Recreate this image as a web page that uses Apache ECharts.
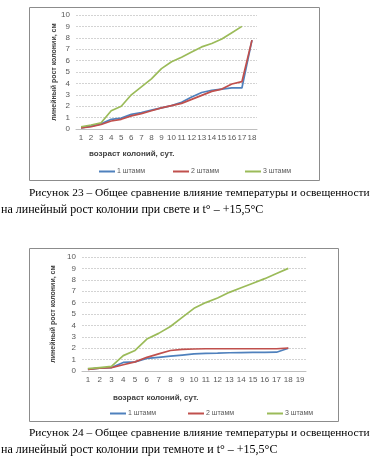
<!DOCTYPE html>
<html><head><meta charset="utf-8">
<script src="https://cdn.jsdelivr.net/npm/echarts@6/dist/echarts.min.js"></script>
<style>html,body{margin:0;padding:0;background:#fff}#c{width:381px;height:466px}</style>
</head><body><div id="c"></div>
<script>
const days1 = ['1','2','3','4','5','6','7','8','9','10','11','12','13','14','15','16','17','18'];
const days2 = ['1','2','3','4','5','6','7','8','9','10','11','12','13','14','15','16','17','18','19'];
const seriesNames = ['1 штамм','2 штамм','3 штамм'];
// Рисунок 23 (свет)
const light1 = [0.1,0.25,0.45,0.85,0.95,1.28,1.45,1.65,1.85,2.05,2.35,2.8,3.2,3.4,3.5,3.6,3.6,7.8];
const light2 = [0.1,0.2,0.4,0.7,0.85,1.15,1.35,1.6,1.85,2.05,2.25,2.6,2.95,3.3,3.5,3.95,4.15,7.8];
const light3 = [0.2,0.35,0.55,1.6,2.0,3.0,3.7,4.4,5.3,5.9,6.3,6.75,7.2,7.5,7.9,8.45,9.0,null];
// Рисунок 24 (темнота)
const dark1 = [0.15,0.25,0.3,0.75,0.8,1.1,1.2,1.3,1.4,1.5,1.55,1.57,1.6,1.62,1.63,1.63,1.65,2.0,null];
const dark2 = [0.15,0.25,0.3,0.55,0.8,1.2,1.5,1.8,1.9,1.93,1.95,1.95,1.95,1.95,1.95,1.95,1.95,2.0,null];
const dark3 = [0.2,0.3,0.4,1.35,1.8,2.8,3.3,3.9,4.7,5.5,6.0,6.4,6.9,7.3,7.7,8.1,8.55,9.0,null];
const yMin = 0, yMax = 10, yStep = 1;
const yTitle = 'линейный рост колонии, см';
const xTitle = 'возраст колоний, сут.';
const caption23a = 'Рисунок 23 – Общее сравнение влияние температуры и освещенности';
const caption23b = 'на линейный рост колонии при свете и t° – +15,5°C';
const caption24a = 'Рисунок 24 – Общее сравнение влияние температуры и освещенности';
const caption24b = 'на линейный рост колонии при темноте и t° – +15,5°C';

const colors = ['#4F81BD','#C0504D','#9BBB59'];
const lblFont = 'Liberation Sans, Arial, sans-serif';
const serif = 'Liberation Serif, Times New Roman, serif';

function xAx(idx, data) {
  return {type:'category', gridIndex: idx, data: data, boundaryGap: true,
    axisTick:{show:false}, axisLine:{lineStyle:{color:'#bfbfbf'}},
    axisLabel:{fontSize:8, color:'#595959', fontFamily: lblFont, margin:5, interval:0}};
}
function yAx(idx, gap) {
  return {type:'value', gridIndex: idx, min:yMin, max:yMax, interval:yStep,
    name: yTitle, nameLocation:'middle', nameRotate:90, nameGap: gap,
    nameTextStyle:{fontSize:7, fontWeight:'bold', color:'#404040', fontFamily: lblFont},
    axisLine:{show:false}, axisTick:{show:false},
    splitLine:{lineStyle:{color:'#d3d3d3', type:[2,1], width:1}},
    axisLabel:{fontSize:8, color:'#595959', fontFamily: lblFont, margin:6}};
}
function ser(name, idx, data, c) {
  return {type:'line', name:name, xAxisIndex: idx, yAxisIndex: idx, data: data,
    symbol:'none', connectNulls:false, lineStyle:{width:1.7, color:c}, itemStyle:{color:c}};
}
function leg(name, left, top) {
  return {data:[name], left:left, top:top, padding:0, icon:'rect', itemWidth:16, itemHeight:2,
    itemGap:3, selectedMode:false,
    textStyle:{fontSize:7, color:'#595959', fontFamily: lblFont, padding:[0,0,0,-3]}};
}
const chart = echarts.init(document.getElementById('c'), null, {renderer:'canvas'});
chart.setOption({
  animation:false,
  color: colors,
  grid:[
    {left:76, top:15, width:181, height:114},
    {left:82, top:257, width:224, height:114}
  ],
  xAxis:[xAx(0, days1), xAx(1, days2)],
  yAxis:[yAx(0, 18), yAx(1, 19)],
  legend:[
    leg(seriesNames[0], 99, 168), leg(seriesNames[1], 173, 168), leg(seriesNames[2], 245, 168),
    leg(seriesNames[0], 110, 410), leg(seriesNames[1], 188, 410), leg(seriesNames[2], 267, 410)
  ],
  series:[
    ser(seriesNames[0], 0, light1, colors[0]),
    ser(seriesNames[1], 0, light2, colors[1]),
    ser(seriesNames[2], 0, light3, colors[2]),
    ser(seriesNames[0], 1, dark1, colors[0]),
    ser(seriesNames[1], 1, dark2, colors[1]),
    ser(seriesNames[2], 1, dark3, colors[2])
  ],
  graphic:[
    {type:'rect', shape:{x:29.5, y:7.5, width:290, height:173}, style:{fill:'none', stroke:'#8c8c8c', lineWidth:1}, silent:true, z:-1},
    {type:'rect', shape:{x:29.5, y:248.5, width:309, height:173}, style:{fill:'none', stroke:'#8c8c8c', lineWidth:1}, silent:true, z:-1},
    {type:'text', left:89, top:150, style:{text:xTitle, fontSize:8, fontWeight:'bold', fill:'#404040', fontFamily: lblFont}},
    {type:'text', left:113, top:394, style:{text:xTitle, fontSize:8, fontWeight:'bold', fill:'#404040', fontFamily: lblFont}},
    {type:'text', left:29, top:188, style:{text:caption23a, fontSize:11.4, fill:'#000', fontFamily: serif}},
    {type:'text', left:1, top:204, style:{text:caption23b, fontSize:12, fill:'#000', fontFamily: serif}},
    {type:'text', left:29, top:428, style:{text:caption24a, fontSize:11.4, fill:'#000', fontFamily: serif}},
    {type:'text', left:1, top:444, style:{text:caption24b, fontSize:12, fill:'#000', fontFamily: serif}}
  ]
});
</script></body></html>
